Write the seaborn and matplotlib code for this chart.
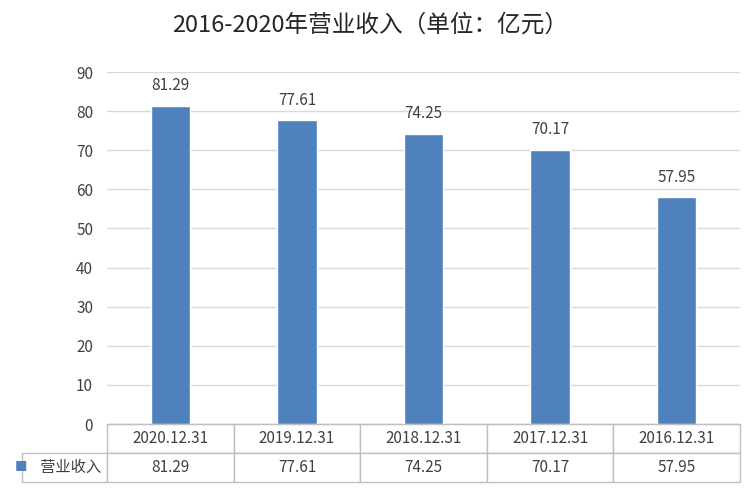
import matplotlib
matplotlib.use("Agg")
import matplotlib.pyplot as plt
import seaborn as sns
import pandas as pd

categories = ["2020.12.31", "2019.12.31", "2018.12.31", "2017.12.31", "2016.12.31"]
values = [81.29, 77.61, 74.25, 70.17, 57.95]
series_name = "营业收入"
title = "2016-2020年营业收入（单位：亿元）"

sns.set_style("white")
plt.rcParams['font.family'] = ['Noto Sans CJK SC', 'DejaVu Sans']

fig = plt.figure(figsize=(7.54, 4.94), dpi=100)
ax = fig.add_axes([107/754, 1-424/494, 633/754, 352/494])
df = pd.DataFrame({"cat": categories, "val": values})
sns.barplot(data=df, x="cat", y="val", color="#4F81BD", saturation=1, width=0.31, ax=ax)
ax.set_ylim(0, 90)
ax.set_yticks(range(0, 91, 10))
ax.yaxis.grid(True, color="#D9D9D9", lw=1)
ax.set_axisbelow(True)
ax.set_xlabel(""); ax.set_ylabel("")
ax.set_xticks([])
for s in ["top", "right", "left"]:
    ax.spines[s].set_visible(False)
ax.spines["bottom"].set_color("#BFBFBF")
ax.tick_params(axis="y", labelsize=11, colors="#404040", length=0, pad=10)
for i, v in enumerate(values):
    ax.text(i, v + 3, f"{v:.2f}", ha="center", va="bottom", fontsize=11, color="#404040")

tbl = ax.table(cellText=[categories, [f"{v:.2f}" for v in values]],
               rowLabels=["", "   " + series_name],
               cellLoc="center", rowLoc="left",
               bbox=[0, -58/352, 1, 58/352])
tbl.auto_set_font_size(False)
tbl.set_fontsize(11)
for (r, c), cell in tbl.get_celld().items():
    cell.set_edgecolor("#BFBFBF")
    cell.get_text().set_color("#404040")
    if c == -1:
        cell.set_width(97/633)
        if r == 0:
            cell.visible_edges = ""
fig.text(15/754, 1-467/494, "■", color="#4F81BD", fontsize=9, va="center")
fig.text(370/754, 1-25/494, title, ha="center", va="center", fontsize=17, color="#262626")
fig.savefig("out.png", dpi=100)
